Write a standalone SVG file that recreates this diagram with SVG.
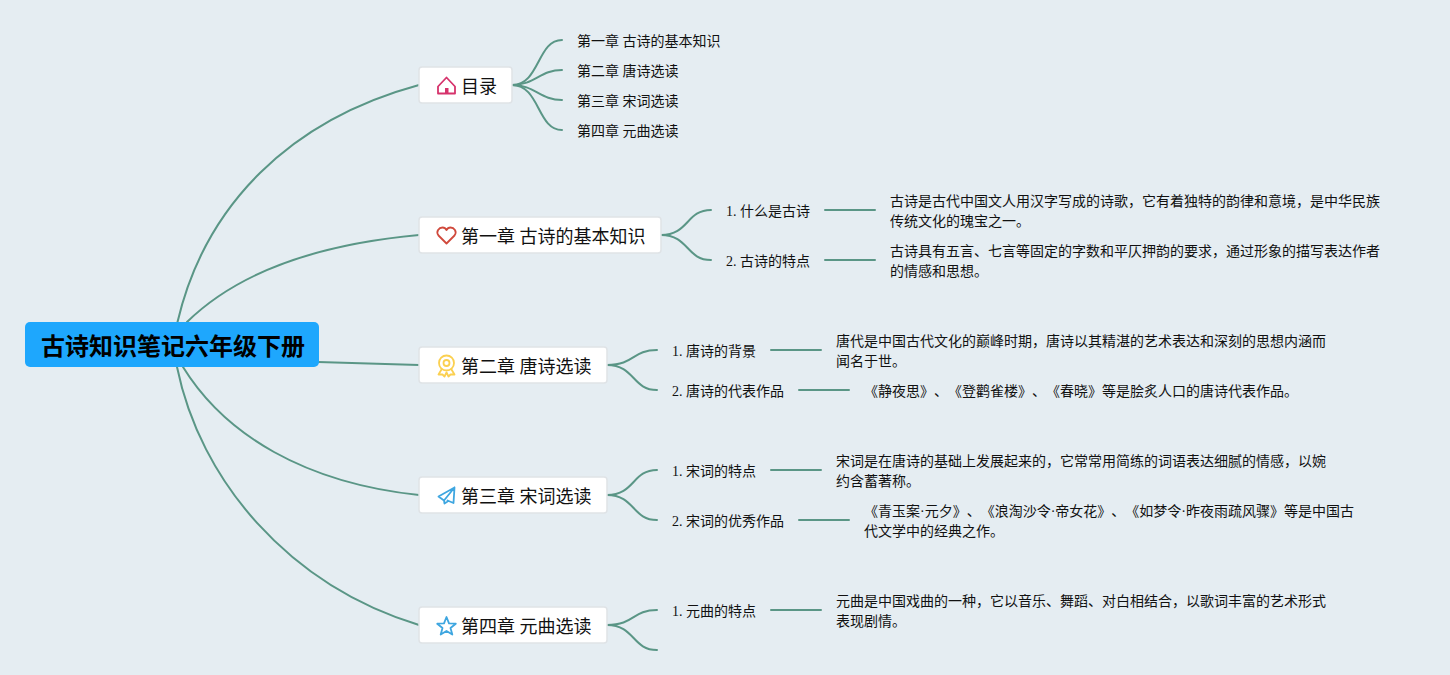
<svg xmlns="http://www.w3.org/2000/svg" width="1450" height="675" viewBox="0 0 1450 675">
<style>
text{font-family:"Liberation Serif","Noto Sans CJK SC",serif;fill:#111;text-spacing-trim:space-all}
.t{font-size:14px}
.h{font-size:18px}
.r{font-size:24px;font-weight:700;fill:#000}
.n{fill:#fff;stroke:#dfe3e6;stroke-width:1.5}
.c{fill:none;stroke:#5a9686;stroke-width:2;stroke-linecap:round}
.i{fill:none;stroke-width:1.8;stroke-linejoin:round;stroke-linecap:round}
</style>
<rect width="1450" height="675" fill="#e5edf2"/>
<g id="connectors" class="c">
<path d="M177.500 322C205 205 290 120 419 85"/>
<path d="M187 322C235 275 310 245 419 235"/>
<path d="M318 362C355 363 390 364 419 365"/>
<path d="M183 367C225 435 305 483 419 495"/>
<path d="M177 367C200 480 288 585 419 625"/>
<path d="M512 85C540 85 537 40 562 40"/>
<path d="M512 85C535 85 540 70 562 70"/>
<path d="M512 85C535 85 540 100 562 100"/>
<path d="M512 85C540 85 537 130 562 130"/>
<path d="M661 235C689 235 686 210 711 210"/>
<path d="M661 235C689 235 686 260 711 260"/>
<path d="M825 210H875M825 260H875"/>
<path d="M607 365C635 365 632 350 657 350"/>
<path d="M607 365C635 365 632 390 657 390"/>
<path d="M771 350H821M799 390H849"/>
<path d="M607 495C635 495 632 470 657 470"/>
<path d="M607 495C635 495 632 520 657 520"/>
<path d="M771 470H821M799 520H849"/>
<path d="M607 625C635 625 632 610 657 610"/>
<path d="M607 625C635 625 632 650 657 650"/>
<path d="M771 610H821"/>
</g>
<g id="root">
<rect x="25" y="322" width="294" height="45" rx="5" fill="#1ea7fd"/>
<text class="r" x="41" y="355">古诗知识笔记六年级下册</text>
</g>
<g id="node-mulu">
<rect class="n" x="419" y="67" width="93" height="36" rx="3"/>
<path class="i" stroke="#d6336c" d="M438 86.500L446.500 77.500L455 86.500V93.500H438Z"/>
<rect x="445" y="88" width="3.500" height="5.500" fill="#d6336c"/>
<text class="h" x="461" y="93">目录</text>
</g>
<g id="node-ch1">
<rect class="n" x="419" y="217" width="242" height="36" rx="3"/>
<path class="i" stroke="#d0493c" d="M446.500 243.500L438.500 235.500C435.500 231.500 439 227.500 442.500 227.500C444.500 227.500 446 229 446.500 230C447 229 448.500 227.500 450.500 227.500C454 227.500 457.500 231.500 454.500 235.500Z"/>
<text class="h" x="461" y="243">第一章 古诗的基本知识</text>
</g>
<g id="node-ch2">
<rect class="n" x="419" y="347" width="188" height="36" rx="3"/>
<circle class="i" stroke="#fbd050" cx="446.500" cy="363" r="7.500"/>
<circle class="i" stroke="#fbd050" cx="446.500" cy="363" r="3"/>
<path class="i" stroke="#fbd050" d="M441.500 369.500L438.500 374.500L442.500 374.500L444.500 376.500L446.500 372.500L448.500 376.500L450.500 374.500L454.500 374.500L451.500 369.500"/>
<text class="h" x="461" y="373">第二章 唐诗选读</text>
</g>
<g id="node-ch3">
<rect class="n" x="419" y="477" width="188" height="36" rx="3"/>
<path class="i" stroke="#3ea6e0" d="M454.500 487.500L438.500 496.500L444 500.500M454.500 487.500L444 500.500L444.500 503.500L447.500 501.500M454.500 487.500L453.500 503L447.500 500.500"/>
<text class="h" x="461" y="503">第三章 宋词选读</text>
</g>
<g id="node-ch4">
<rect class="n" x="419" y="607" width="188" height="36" rx="3"/>
<path class="i" stroke="#3ea6e0" d="M446.500 617L449 623.300L455.800 623.700L450.500 628L452.300 634.600L446.500 631L440.700 634.600L442.500 628L437.200 623.700L444 623.300Z"/>
<text class="h" x="461" y="633">第四章 元曲选读</text>
</g>
<g id="toc-1"><text class="t" x="577" y="46">第一章 古诗的基本知识</text></g>
<g id="toc-2"><text class="t" x="577" y="76">第二章 唐诗选读</text></g>
<g id="toc-3"><text class="t" x="577" y="106">第三章 宋词选读</text></g>
<g id="toc-4"><text class="t" x="577" y="136">第四章 元曲选读</text></g>
<g id="a1"><text class="t" x="726" y="216">1. 什么是古诗</text></g>
<g id="a1d"><text class="t" x="890" y="206">古诗是古代中国文人用汉字写成的诗歌，它有着独特的韵律和意境，是中华民族</text><text class="t" x="890" y="226">传统文化的瑰宝之一。</text></g>
<g id="a2"><text class="t" x="726" y="266">2. 古诗的特点</text></g>
<g id="a2d"><text class="t" x="890" y="256">古诗具有五言、七言等固定的字数和平仄押韵的要求，通过形象的描写表达作者</text><text class="t" x="890" y="276">的情感和思想。</text></g>
<g id="b1"><text class="t" x="672" y="356">1. 唐诗的背景</text></g>
<g id="b1d"><text class="t" x="836" y="346">唐代是中国古代文化的巅峰时期，唐诗以其精湛的艺术表达和深刻的思想内涵而</text><text class="t" x="836" y="366">闻名于世。</text></g>
<g id="b2"><text class="t" x="672" y="396">2. 唐诗的代表作品</text></g>
<g id="b2d"><text class="t" x="864" y="396">《静夜思》、《登鹳雀楼》、《春晓》等是脍炙人口的唐诗代表作品。</text></g>
<g id="c1"><text class="t" x="672" y="476">1. 宋词的特点</text></g>
<g id="c1d"><text class="t" x="836" y="466">宋词是在唐诗的基础上发展起来的，它常常用简练的词语表达细腻的情感，以婉</text><text class="t" x="836" y="486">约含蓄著称。</text></g>
<g id="c2"><text class="t" x="672" y="526">2. 宋词的优秀作品</text></g>
<g id="c2d"><text class="t" x="864" y="516">《青玉案·元夕》、《浪淘沙令·帝女花》、《如梦令·昨夜雨疏风骤》等是中国古</text><text class="t" x="864" y="536">代文学中的经典之作。</text></g>
<g id="d1"><text class="t" x="672" y="616">1. 元曲的特点</text></g>
<g id="d1d"><text class="t" x="836" y="606">元曲是中国戏曲的一种，它以音乐、舞蹈、对白相结合，以歌词丰富的艺术形式</text><text class="t" x="836" y="626">表现剧情。</text></g>
</svg>
